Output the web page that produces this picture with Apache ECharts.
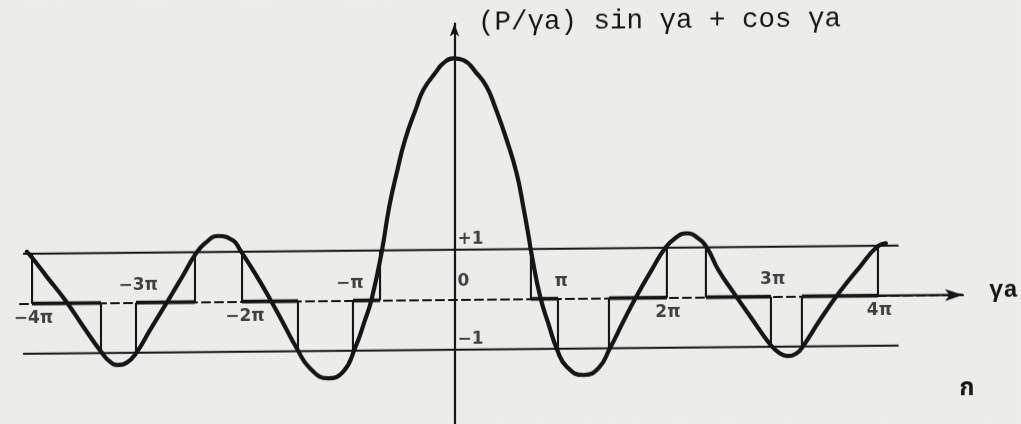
<!DOCTYPE html>
<html>
<head>
<meta charset="utf-8">
<script src="https://cdn.jsdelivr.net/npm/echarts@6/dist/echarts.min.js"></script>
<style>
  html, body { margin: 0; padding: 0; background: #ececea; overflow: hidden; }
  #chart { width: 1021px; height: 424px; transform: skewY(-0.54deg); transform-origin: 454px 300px; }
</style>
</head>
<body>
<div id="chart"></div>
<script>
// Kronig–Penney condition f(γa) = (P/γa) sin γa + cos γa, γa measured in units of π
const curveX = [-4.045, -3.998, -3.856, -3.683, -3.510, -3.343, -3.258, -3.179, -3.100, -3.012,
  -2.879, -2.706, -2.565, -2.454, -2.359, -2.234, -2.092, -2.028, -1.887, -1.745,
  -1.619, -1.492, -1.366, -1.193, -1.052, -0.941, -0.846, -0.783, -0.688, -0.617,
  -0.547, -0.468, -0.357, -0.295, -0.184, -0.106, -0.011, 0.083, 0.210, 0.304,
  0.383, 0.494, 0.588, 0.651, 0.707, 0.723, 0.809, 0.887, 0.972, 1.061,
  1.218, 1.360, 1.470, 1.596, 1.723, 1.865, 1.991, 2.085, 2.196, 2.305,
  2.391, 2.496, 2.634, 2.799, 2.990, 3.078, 3.147, 3.236, 3.298, 3.456,
  3.645, 3.835, 3.992, 4.080];
const curveY = [1.041, 0.928, 0.537, 0.068, -0.470, -0.973, -1.175, -1.242, -1.198, -1.012,
  -0.548, 0.048, 0.545, 0.943, 1.175, 1.319, 1.222, 1.035, 0.566, 0.049,
  -0.440, -0.942, -1.345, -1.548, -1.419, -0.953, -0.389, 0.030, 0.974, 1.872,
  2.539, 3.203, 3.867, 4.200, 4.532, 4.730, 4.828, 4.792, 4.524, 4.254,
  3.852, 3.184, 2.516, 1.847, 1.180, 0.965, 0.058, -0.490, -1.026, -1.361,
  -1.531, -1.399, -1.002, -0.472, 0.039, 0.556, 0.988, 1.186, 1.284, 1.182,
  0.980, 0.544, 0.107, -0.396, -0.966, -1.134, -1.189, -1.137, -0.992, -0.476,
  0.087, 0.583, 0.968, 1.046];

// allowed bands: edges (γa/π) and the level (+1 / −1) the curve reaches at each edge
const bandStart      = [-3.995, -3.012, -2.009, -0.960, 0.723, 1.461, 2.378, 3.286];
const bandEnd        = [-3.343, -2.454, -1.480, -0.704, 0.979, 2.009, 2.993, 4.005];
const bandStartLevel = [1, -1, 1, -1, 1, -1, 1, -1];
const bandEndLevel   = [-1, 1, -1, 1, -1, 1, -1, 1];

// horizontal guide lines at f = +1 and f = −1
const guideLevels = [1, -1];
const guideFrom = -4.08;
const guideTo = 4.20;

// axis labels
const tickValues = [-4, -3, -2, -1, 1, 2, 3, 4];
const tickLabels = ['−4π', '−3π', '−2π', '−π', 'π', '2π', '3π', '4π'];
const levelValues = [1, 0, -1];
const levelLabels = ['+1', '0', '−1'];
const titleText = '(P/γa) sin γa + cos γa';
const axisName = 'γa';
const cornerMark = 'ก';

// plot window
const X_MIN = -4.109, X_MAX = 4.809;
const Y_MIN = -2.486, Y_MAX = 5.524;

const ink = '#151515';
const thin = 2.1;
const mono = '"Liberation Mono", "DejaVu Sans Mono", monospace';
const sans = '"DejaVu Sans", "Liberation Sans", sans-serif';

const seg = (pts, width, z) => ({
  type: 'line', data: pts, symbol: 'none', silent: true, animation: false,
  lineStyle: { color: ink, width: width, cap: 'butt' }, z: z || 2
});

const series = [];

guideLevels.forEach(l => series.push(seg([[guideFrom, l], [guideTo, l]], thin)));

bandStart.forEach((a, i) => {
  const b = bandEnd[i];
  series.push(seg([[a, bandStartLevel[i]], [a, 0]], thin));
  series.push(seg([[b, 0], [b, bandEndLevel[i]]], thin));
  series.push(seg([[a, 0], [b, 0]], 3.8, 3));
});

// the γa axis runs solid from the last band edge to the arrow
series.push(seg([[bandEnd[bandEnd.length - 1], 0], [X_MAX, 0]], 2.2));

series.push({
  type: 'line', data: curveX.map((x, i) => [x, curveY[i]]),
  smooth: 0.5, symbol: 'none', silent: true, animation: false, z: 5,
  lineStyle: { color: ink, width: 4.2, cap: 'round', join: 'round' }
});

series.push({
  type: 'scatter', symbolSize: 0, silent: true, animation: false, z: 6,
  data: tickValues.map((n, i) => ({
    value: [n, 0],
    label: { formatter: tickLabels[i], offset: n % 2 === 0 ? [2, 15] : [1, -17] }
  })),
  label: { show: true, position: 'inside', color: ink, fontFamily: sans, fontWeight: 'bold', fontSize: 17 }
});

series.push({
  type: 'scatter', symbolSize: 0, silent: true, animation: false, z: 6,
  data: levelValues.map((v, i) => ({
    value: [0, v],
    label: { formatter: levelLabels[i], offset: [3, v === 0 ? -18 : -10.2] }
  })),
  label: { show: true, position: 'inside', align: 'left', color: ink, fontFamily: sans, fontWeight: 'bold', fontSize: 17 }
});

const chart = echarts.init(document.getElementById('chart'), null, { renderer: 'canvas' });
chart.setOption({
  backgroundColor: '#ececea',
  animation: false,
  grid: { left: 20, right: 58, top: 23.5, bottom: 0, outerBoundsMode: 'none' },
  xAxis: {
    type: 'value', min: X_MIN, max: X_MAX,
    axisLine: { show: true, onZero: true, symbol: ['none', 'arrow'], symbolSize: [9, 18],
      lineStyle: { color: ink, width: 2.2, type: [8, 5] } },
    axisTick: { show: false }, axisLabel: { show: false }, splitLine: { show: false }
  },
  yAxis: {
    type: 'value', min: Y_MIN, max: Y_MAX,
    axisLine: { show: true, onZero: true, symbol: ['none', 'arrow'], symbolSize: [7, 13],
      lineStyle: { color: ink, width: 2.2 } },
    axisTick: { show: false }, axisLabel: { show: false }, splitLine: { show: false }
  },
  graphic: [
    { type: 'text', x: 478, y: 22.5, silent: true,
      style: { text: titleText, font: '27.5px ' + mono, fill: ink, align: 'left', verticalAlign: 'middle' } },
    { type: 'text', x: 989, y: 296, silent: true,
      style: { text: axisName, font: 'bold 24px ' + mono, fill: ink, align: 'left', verticalAlign: 'middle' } },
    { type: 'text', x: 967, y: 395, silent: true,
      style: { text: cornerMark, font: 'bold 24px "Noto Sans Thai", "Loma", "Garuda", "Norasi", ' + sans, fill: ink, align: 'center', verticalAlign: 'middle' } }
  ],
  series: series
});
</script>
</body>
</html>
